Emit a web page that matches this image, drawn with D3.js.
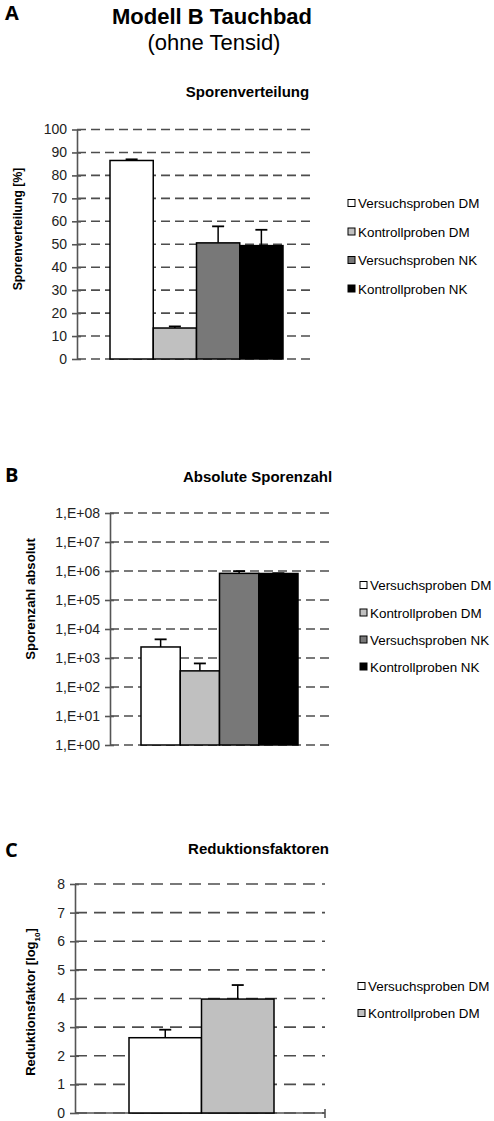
<!DOCTYPE html>
<html>
<head>
<meta charset="utf-8">
<script src="https://cdn.jsdelivr.net/npm/d3@7"></script>
<style>
  html, body { margin: 0; padding: 0; background: #fff; }
  svg { display: block; }
  text { font-family: "Liberation Sans", Arial, sans-serif; }
</style>
</head>
<body>
<svg id="fig" width="494" height="1121"></svg>
<script>
// Series shared by the three panels
const seriesNames = ["Versuchsproben DM", "Kontrollproben DM", "Versuchsproben NK", "Kontrollproben NK"];
const seriesColors = ["#ffffff", "#c0c0c0", "#787878", "#000000"];

// Panel A: spore distribution in percent (mean, upper error)
const verteilungMean = [86.5, 13.5, 50.6, 49.4];
const verteilungErr = [0.5, 0.7, 7.2, 6.9];
const verteilungTicks = [0, 10, 20, 30, 40, 50, 60, 70, 80, 90, 100];

// Panel B: absolute spore count (mean, upper end of error bar)
const sporenzahlMean = [2400, 360, 830000, 820000];
const sporenzahlErrTop = [4400, 650, 990000, 840000];
const sporenzahlTicks = [1e0, 1e1, 1e2, 1e3, 1e4, 1e5, 1e6, 1e7, 1e8];
const sporenzahlTickLabels = ["1,E+00", "1,E+01", "1,E+02", "1,E+03", "1,E+04", "1,E+05", "1,E+06", "1,E+07", "1,E+08"];

// Panel C: reduction factors in log10 (DM series only)
const reduktionMean = [2.63, 3.98];
const reduktionErr = [0.28, 0.49];
const reduktionTicks = [0, 1, 2, 3, 4, 5, 6, 7, 8];

const svg = d3.select("#fig");
const FONT = '"Liberation Sans", Arial, sans-serif';

// Figure heading
svg.append("text").attr("x", 212).attr("y", 24).attr("text-anchor", "middle")
  .style("font-size", "22px").style("font-weight", "bold").text("Modell B Tauchbad");
svg.append("text").attr("x", 214).attr("y", 50).attr("text-anchor", "middle")
  .style("font-size", "22px").text("(ohne Tensid)");

function panelLetter(letter, y) {
  svg.append("text").attr("x", 5).attr("y", y)
    .style("font-family", '"Open Sans", sans-serif')
    .style("font-size", "20px").style("font-weight", "bold").text(letter);
}

function drawPanel(cfg) {
  const g = svg.append("g");
  const { y, x0, x1, band, names } = cfg;
  const x = d3.scaleBand().domain(names).range(band).padding(0);

  // chart title
  g.append("text").attr("x", cfg.titleX).attr("y", cfg.titleY).attr("text-anchor", "middle")
    .style("font-size", "15px").style("font-weight", "bold").text(cfg.title);

  // dashed gridlines
  g.append("g").selectAll("line").data(cfg.ticks).join("line")
    .attr("x1", x0).attr("x2", x1)
    .attr("y1", d => y(d)).attr("y2", d => y(d))
    .attr("stroke", "#4d4d4d").attr("stroke-width", 1.6)
    .attr("stroke-dasharray", cfg.dash);

  // y axis with crossing ticks
  const axis = d3.axisLeft(y).tickValues(cfg.ticks).tickSize(0).tickPadding(10)
    .tickFormat(cfg.tickFormat);
  const ax = g.append("g").attr("transform", `translate(${x0},0)`).call(axis);
  ax.select(".domain").attr("stroke", "#555").attr("stroke-width", 1.6);
  ax.selectAll(".tick text").style("font-family", FONT).style("font-size", "14px").attr("fill", "#222");
  ax.selectAll(".tick").append("line").attr("x1", -5).attr("x2", 4)
    .attr("stroke", "#555").attr("stroke-width", 1.6);

  // solid baseline (panel C)
  if (cfg.baseline) {
    const yb = y.range()[0];
    g.append("line").attr("x1", x0).attr("x2", x1).attr("y1", yb).attr("y2", yb)
      .attr("stroke", "#555").attr("stroke-width", 1.6);
    g.append("line").attr("x1", x1).attr("x2", x1).attr("y1", yb - 4).attr("y2", yb + 5)
      .attr("stroke", "#555").attr("stroke-width", 1.6);
  }

  const base = cfg.base;
  const rows = names.map((n, i) => ({ n, v: cfg.values[i], top: cfg.errTop[i], c: seriesColors[i] }));

  // error bars (drawn under the bar outlines)
  const eg = g.append("g");
  rows.forEach(r => {
    const cx = x(r.n) + x.bandwidth() / 2;
    eg.append("line").attr("x1", cx).attr("x2", cx).attr("y1", y(r.v)).attr("y2", y(r.top))
      .attr("stroke", "#000").attr("stroke-width", 1.5);
    eg.append("line").attr("x1", cx - 6).attr("x2", cx + 6).attr("y1", y(r.top)).attr("y2", y(r.top))
      .attr("stroke", "#000").attr("stroke-width", 1.8);
  });

  // bars
  g.append("g").selectAll("rect").data(rows).join("rect")
    .attr("x", d => x(d.n)).attr("width", x.bandwidth())
    .attr("y", d => y(d.v)).attr("height", d => y(base) - y(d.v))
    .attr("fill", d => d.c).attr("stroke", "#000").attr("stroke-width", 1.5);

  // y axis title
  const yt = g.append("text").attr("transform", `translate(${cfg.labelX},${cfg.labelY}) rotate(-90)`)
    .attr("text-anchor", "middle").style("font-size", cfg.labelSize).style("font-weight", "bold");
  cfg.label.forEach(part => {
    const ts = yt.append("tspan").text(part.t);
    if (part.sub) ts.attr("baseline-shift", "sub").style("font-size", "8px");
  });

  // legend
  const lg = g.append("g");
  names.forEach((n, i) => {
    const ly = cfg.legendY[i];
    lg.append("rect").attr("x", cfg.legendX).attr("y", ly - 3.5).attr("width", 7).attr("height", 7)
      .attr("fill", seriesColors[i]).attr("stroke", "#000").attr("stroke-width", 1);
    lg.append("text").attr("x", cfg.legendX + 10).attr("y", ly + 5)
      .style("font-size", "13.4px").text(n);
  });
}

// Panel A
panelLetter("A", 20);
drawPanel({
  title: "Sporenverteilung", titleX: 247.5, titleY: 97,
  y: d3.scaleLinear().domain([0, 100]).range([359, 129.5]),
  x0: 77, x1: 312, band: [110, 283], names: seriesNames,
  ticks: verteilungTicks, tickFormat: d3.format("d"), dash: "9,5",
  base: 0, values: verteilungMean,
  errTop: verteilungMean.map((v, i) => v + verteilungErr[i]),
  label: [{ t: "Sporenverteilung [%]" }], labelX: 22, labelY: 229, labelSize: "12.2px",
  legendX: 348, legendY: [203, 231.5, 260, 288.5]
});

// Panel B
panelLetter("B", 482);
drawPanel({
  title: "Absolute Sporenzahl", titleX: 257.5, titleY: 482,
  y: d3.scaleLog().domain([1, 1e8]).range([745, 513]),
  x0: 110, x1: 329, band: [141, 298], names: seriesNames,
  ticks: sporenzahlTicks, tickFormat: (d, i) => sporenzahlTickLabels[i], dash: "9,5",
  base: 1, values: sporenzahlMean, errTop: sporenzahlErrTop,
  label: [{ t: "Sporenzahl absolut" }], labelX: 35, labelY: 599, labelSize: "13.2px",
  legendX: 360, legendY: [585, 612.5, 639.5, 666.5]
});

// Panel C
panelLetter("C", 857);
drawPanel({
  title: "Reduktionsfaktoren", titleX: 258.5, titleY: 854,
  y: d3.scaleLinear().domain([0, 8]).range([1113, 884]),
  x0: 75, x1: 325, band: [129, 274], names: seriesNames.slice(0, 2),
  ticks: reduktionTicks, tickFormat: d3.format("d"), dash: "12,7", baseline: true,
  base: 0, values: reduktionMean,
  errTop: reduktionMean.map((v, i) => v + reduktionErr[i]),
  label: [{ t: "Reduktionsfaktor [log" }, { t: "10", sub: true }, { t: "]" }],
  labelX: 35, labelY: 1002, labelSize: "13px",
  legendX: 358, legendY: [986, 1013]
});
</script>
</body>
</html>
